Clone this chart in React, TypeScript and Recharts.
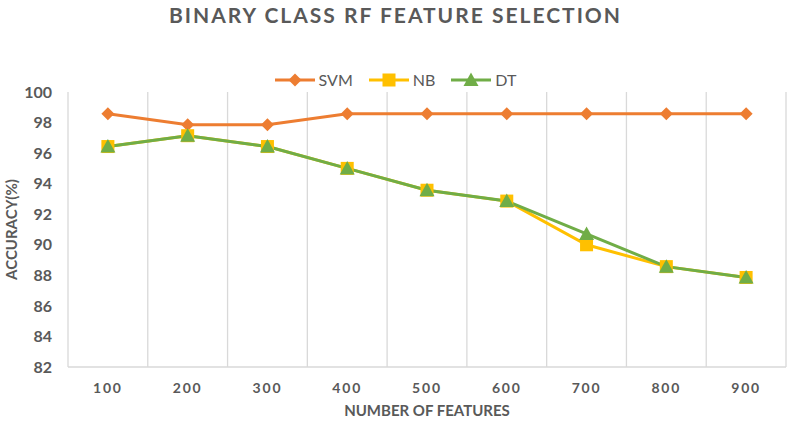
import React from "react";
import {
  LineChart,
  Line,
  XAxis,
  YAxis,
  CartesianGrid,
} from "recharts";

const features = ["100", "200", "300", "400", "500", "600", "700", "800", "900"];
const svm = [98.57, 97.86, 97.86, 98.57, 98.57, 98.57, 98.57, 98.57, 98.57];
const nb = [96.43, 97.14, 96.43, 95.0, 93.57, 92.86, 90.0, 88.57, 87.86];
const dt = [96.43, 97.14, 96.43, 95.0, 93.57, 92.86, 90.71, 88.57, 87.86];
const yTicks = [82, 84, 86, 88, 90, 92, 94, 96, 98, 100];

const chartData = features.map((f, i) => ({
  name: f,
  svm: svm[i],
  nb: nb[i],
  dt: dt[i],
}));

const FONT = "Lato, 'Open Sans', sans-serif";
const TEXT = "#595959";
const COLORS = { svm: "#ED7D31", nb: "#FFC000", dt: "#70AD47" };

type Shape = "diamond" | "square" | "triangle";

function marker(shape: Shape, cx: number, cy: number, color: string, key?: string) {
  if (shape === "diamond") {
    const r = 6.5;
    return (
      <path key={key} d={`M${cx},${cy - r}L${cx + r},${cy}L${cx},${cy + r}L${cx - r},${cy}Z`} fill={color} />
    );
  }
  if (shape === "square") {
    const r = 6.5;
    return <rect key={key} x={cx - r} y={cy - r} width={r * 2} height={r * 2} fill={color} />;
  }
  const r = 7.5;
  return (
    <path key={key} d={`M${cx},${cy - r}L${cx + r},${cy + r * 0.8}L${cx - r},${cy + r * 0.8}Z`} fill={color} />
  );
}

const makeDot = (shape: Shape, color: string) => (props: any) => {
  const { cx, cy, index } = props;
  if (cx == null || cy == null) return <g key={index} />;
  return marker(shape, cx, cy, color, `d-${shape}-${index}`);
};

const legendItems: { label: string; color: string; shape: Shape }[] = [
  { label: "SVM", color: COLORS.svm, shape: "diamond" },
  { label: "NB", color: COLORS.nb, shape: "square" },
  { label: "DT", color: COLORS.dt, shape: "triangle" },
];

function LegendBox() {
  return (
    <div
      style={{
        position: "absolute",
        top: 70,
        left: 0,
        width: 791,
        display: "flex",
        justifyContent: "center",
        gap: 16,
        fontFamily: FONT,
        zIndex: 2,
      }}
    >
      {legendItems.map((it) => (
        <div key={it.label} style={{ display: "flex", alignItems: "center", gap: 4 }}>
          <svg width={40} height={18}>
            <line x1={0} y1={9} x2={40} y2={9} stroke={it.color} strokeWidth={3} />
            {marker(it.shape, 20, 9, it.color)}
          </svg>
          <span style={{ color: TEXT, fontSize: 16 }}>{it.label}</span>
        </div>
      ))}
    </div>
  );
}

export default function App() {
  return (
    <div style={{ position: "absolute", left: 0, top: 0, width: 791, height: 421, background: "#fff" }}>
      <div
        style={{
          position: "absolute",
          top: 0,
          left: 0,
          width: 791,
          textAlign: "center",
          fontFamily: FONT,
          fontWeight: 700,
          fontSize: 21,
          letterSpacing: 2,
          color: TEXT,
          lineHeight: "30px",
          zIndex: 2,
        }}
      >
        BINARY CLASS RF FEATURE SELECTION
      </div>
      <LegendBox />
      <LineChart
        width={791}
        height={421}
        data={chartData}
        margin={{ top: 92, right: 5, bottom: 24, left: 26 }}
      >
        <CartesianGrid
          horizontal={false}
          stroke="#d9d9d9"
          strokeWidth={1.3}
          verticalCoordinatesGenerator={({ offset }: any) =>
            Array.from({ length: features.length + 1 }, (_, i) => offset.left + (i * offset.width) / features.length)
          }
        />
        <XAxis
          dataKey="name"
          scale="band"
          axisLine={{ stroke: "#d9d9d9", strokeWidth: 1.3 }}
          tickLine={false}
          tick={{ fill: TEXT, fontSize: 14, fontWeight: 700, fontFamily: FONT, letterSpacing: 1.8 }}
          tickMargin={10}
          height={30}
          label={{
            value: "NUMBER OF FEATURES",
            position: "bottom",
            offset: 8,
            fill: TEXT,
            fontSize: 15,
            fontWeight: 700,
            fontFamily: FONT,
          }}
        />
        <YAxis
          domain={[82, 100]}
          ticks={yTicks}
          axisLine={false}
          tickLine={false}
          width={42}
          tick={{ fill: TEXT, fontSize: 16, fontWeight: 700, fontFamily: FONT }}
          tickMargin={10}
          label={{
            value: "ACCURACY(%)",
            angle: -90,
            position: "insideLeft",
            offset: -14,
            style: { textAnchor: "middle" },
            fill: TEXT,
            fontSize: 15,
            fontWeight: 700,
            fontFamily: FONT,
          }}
        />
        <Line
          dataKey="svm"
          name="SVM"
          stroke={COLORS.svm}
          strokeWidth={3}
          dot={makeDot("diamond", COLORS.svm)}
          isAnimationActive={false}
        />
        <Line
          dataKey="nb"
          name="NB"
          stroke={COLORS.nb}
          strokeWidth={3}
          dot={makeDot("square", COLORS.nb)}
          isAnimationActive={false}
        />
        <Line
          dataKey="dt"
          name="DT"
          stroke={COLORS.dt}
          strokeWidth={3}
          dot={makeDot("triangle", COLORS.dt)}
          isAnimationActive={false}
        />
      </LineChart>
    </div>
  );
}
